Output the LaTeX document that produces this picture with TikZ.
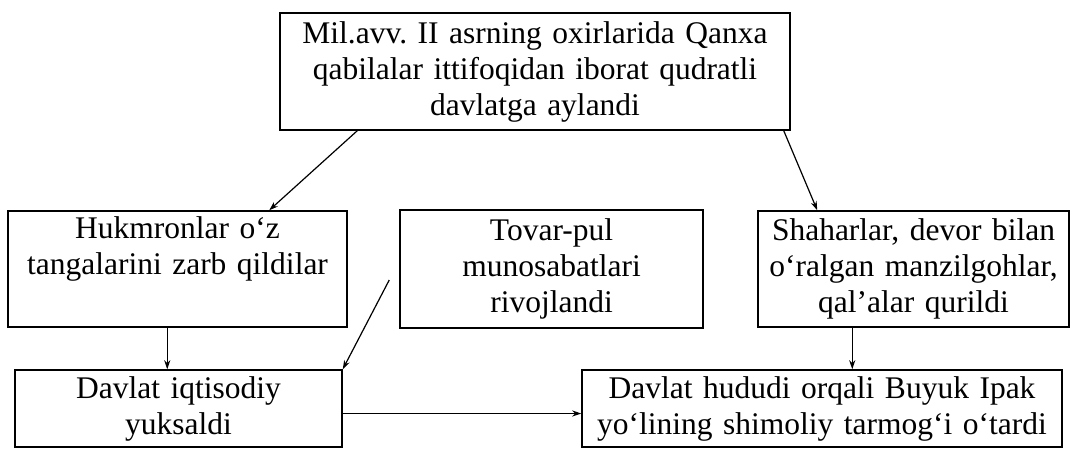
\documentclass[tikz,border=0pt]{standalone}
\usepackage{fontspec}
\setmainfont{Liberation Serif}
\usetikzlibrary{arrows.meta,calc}
\begin{document}
\frenchspacing
\begin{tikzpicture}[x=1pt,y=-1pt,
  box/.style={draw,line width=1.5pt,inner sep=0pt,align=center,
    font=\fontsize{31.5}{36}\selectfont},
  conn/.style={line width=1.2pt,-{Stealth[length=9pt,width=6pt]}}]
\useasboundingbox[fill=white] (0,0) rectangle (1071,448);
\node[box,minimum width=510pt,minimum height=117pt,text width=504pt] (top) at (535,71.5)
  {Mil.avv. II asrning oxirlarida Qanxa\\qabilalar ittifoqidan iborat qudratli\\davlatga aylandi};
\node[box,minimum width=339pt,minimum height=116pt,text width=333pt] (hl) at (177.5,269)
  {Hukmronlar o‘z\\tangalarini zarb qildilar\\\strut};
\node[box,minimum width=303pt,minimum height=118pt,text width=297pt] (tp) at (551.5,269)
  {Tovar-pul\\munosabatlari\\rivojlandi};
\node[box,minimum width=311pt,minimum height=116pt,text width=307pt] (sh) at (913.5,269)
  {Shaharlar, devor bilan\\o‘ralgan manzilgohlar,\\qal’alar qurildi};
\node[box,minimum width=327pt,minimum height=77pt,text width=321pt] (di) at (178.5,408.5)
  {Davlat iqtisodiy\\yuksaldi};
\node[box,minimum width=480pt,minimum height=77pt,text width=474pt] (br) at (822,408.5)
  {Davlat hududi orqali Buyuk Ipak\\yo‘lining shimoliy tarmog‘i o‘tardi};
\draw[conn] ([xshift=78pt]top.south west) -- ([xshift=262pt]hl.north west);
\draw[conn] ([xshift=-7pt]top.south east) -- ([xshift=60pt]sh.north west);
\draw[conn] ([xshift=160pt]hl.south west) -- ([xshift=153pt]di.north west);
\draw[conn] ([xshift=-10pt,yshift=-11pt]tp.west) -- (di.north east);
\draw[conn] ([yshift=-5pt]di.east) -- ([yshift=-5pt]br.west);
\draw[conn] ([xshift=95pt]sh.south west) -- ([xshift=271pt]br.north west);
\end{tikzpicture}
\end{document}
